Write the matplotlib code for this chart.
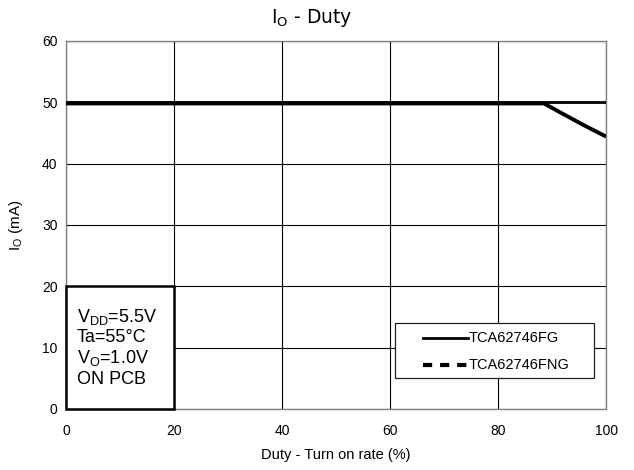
import matplotlib
matplotlib.use('Agg')
import matplotlib.pyplot as plt
from matplotlib.lines import Line2D
from matplotlib.patches import Rectangle

plt.rcParams['font.family'] = ['Liberation Sans', 'DejaVu Sans']
plt.rcParams['mathtext.default'] = 'regular'

# Data
duty_fg = [0, 100]
io_fg = [50.0, 50.0]

duty_fng = [0, 88.5, 92, 96, 100]
io_fng = [49.8, 49.8, 48.1, 46.2, 44.4]

series_names = ['TCA62746FG', 'TCA62746FNG']
x_ticks = [0, 20, 40, 60, 80, 100]
y_ticks = [0, 10, 20, 30, 40, 50, 60]
conditions = ['V$_{DD}$=5.5V', 'Ta=55°C', 'V$_O$=1.0V', 'ON PCB']

fig = plt.figure(figsize=(6.34, 4.70), dpi=100)
ax = fig.add_axes([0.104, 0.130, 0.852, 0.783])

ax.plot(duty_fg, io_fg, color='black', lw=2.0, solid_capstyle='butt', zorder=3)
ax.plot(duty_fng, io_fng, color='black', lw=2.8, solid_capstyle='butt', zorder=3)

ax.set_xlim(0, 100)
ax.set_ylim(0, 60)
ax.set_xticks(x_ticks)
ax.set_yticks(y_ticks)
ax.grid(True, color='black', lw=0.8)
ax.tick_params(axis='both', length=0, labelsize=10)
ax.tick_params(axis='x', pad=11)
ax.tick_params(axis='y', pad=6)
for s in ax.spines.values():
    s.set_color('#808080')
    s.set_linewidth(1.0)

ax.set_xlabel('Duty - Turn on rate (%)', fontsize=10.5, labelpad=7)
ax.set_ylabel('I$_O$ (mA)', fontsize=11, labelpad=12)
fig.text(0.491, 0.951, 'I$_O$ - Duty', fontsize=13.5, ha='center', va='baseline',
         family='DejaVu Sans')

# condition box
ax.add_patch(Rectangle((0, 0), 20, 20, facecolor='white', edgecolor='black',
                       lw=1.8, zorder=4, clip_on=False))
for i, t in enumerate(conditions):
    ax.text(2.0, 14.2 - i * 3.37, t, fontsize=13, va='baseline', ha='left', zorder=5)

# legend box (drawn in axes coordinates)
ax.add_patch(Rectangle((0.609, 0.084), 0.369, 0.150, transform=ax.transAxes,
                       facecolor='white', edgecolor='#202020', lw=0.9, zorder=6))
styles = [dict(lw=2.0, linestyle='-'), dict(lw=3.0, linestyle=(0, (2.2, 1.9)))]
for name, st, yy in zip(series_names, styles, [0.193, 0.120]):
    ax.add_line(Line2D([0.661, 0.744], [yy, yy], transform=ax.transAxes,
                       color='black', zorder=7, **st))
    ax.text(0.746, yy, name, transform=ax.transAxes, fontsize=10.5,
            va='center', ha='left', zorder=7)

fig.savefig('out.png', dpi=100)
